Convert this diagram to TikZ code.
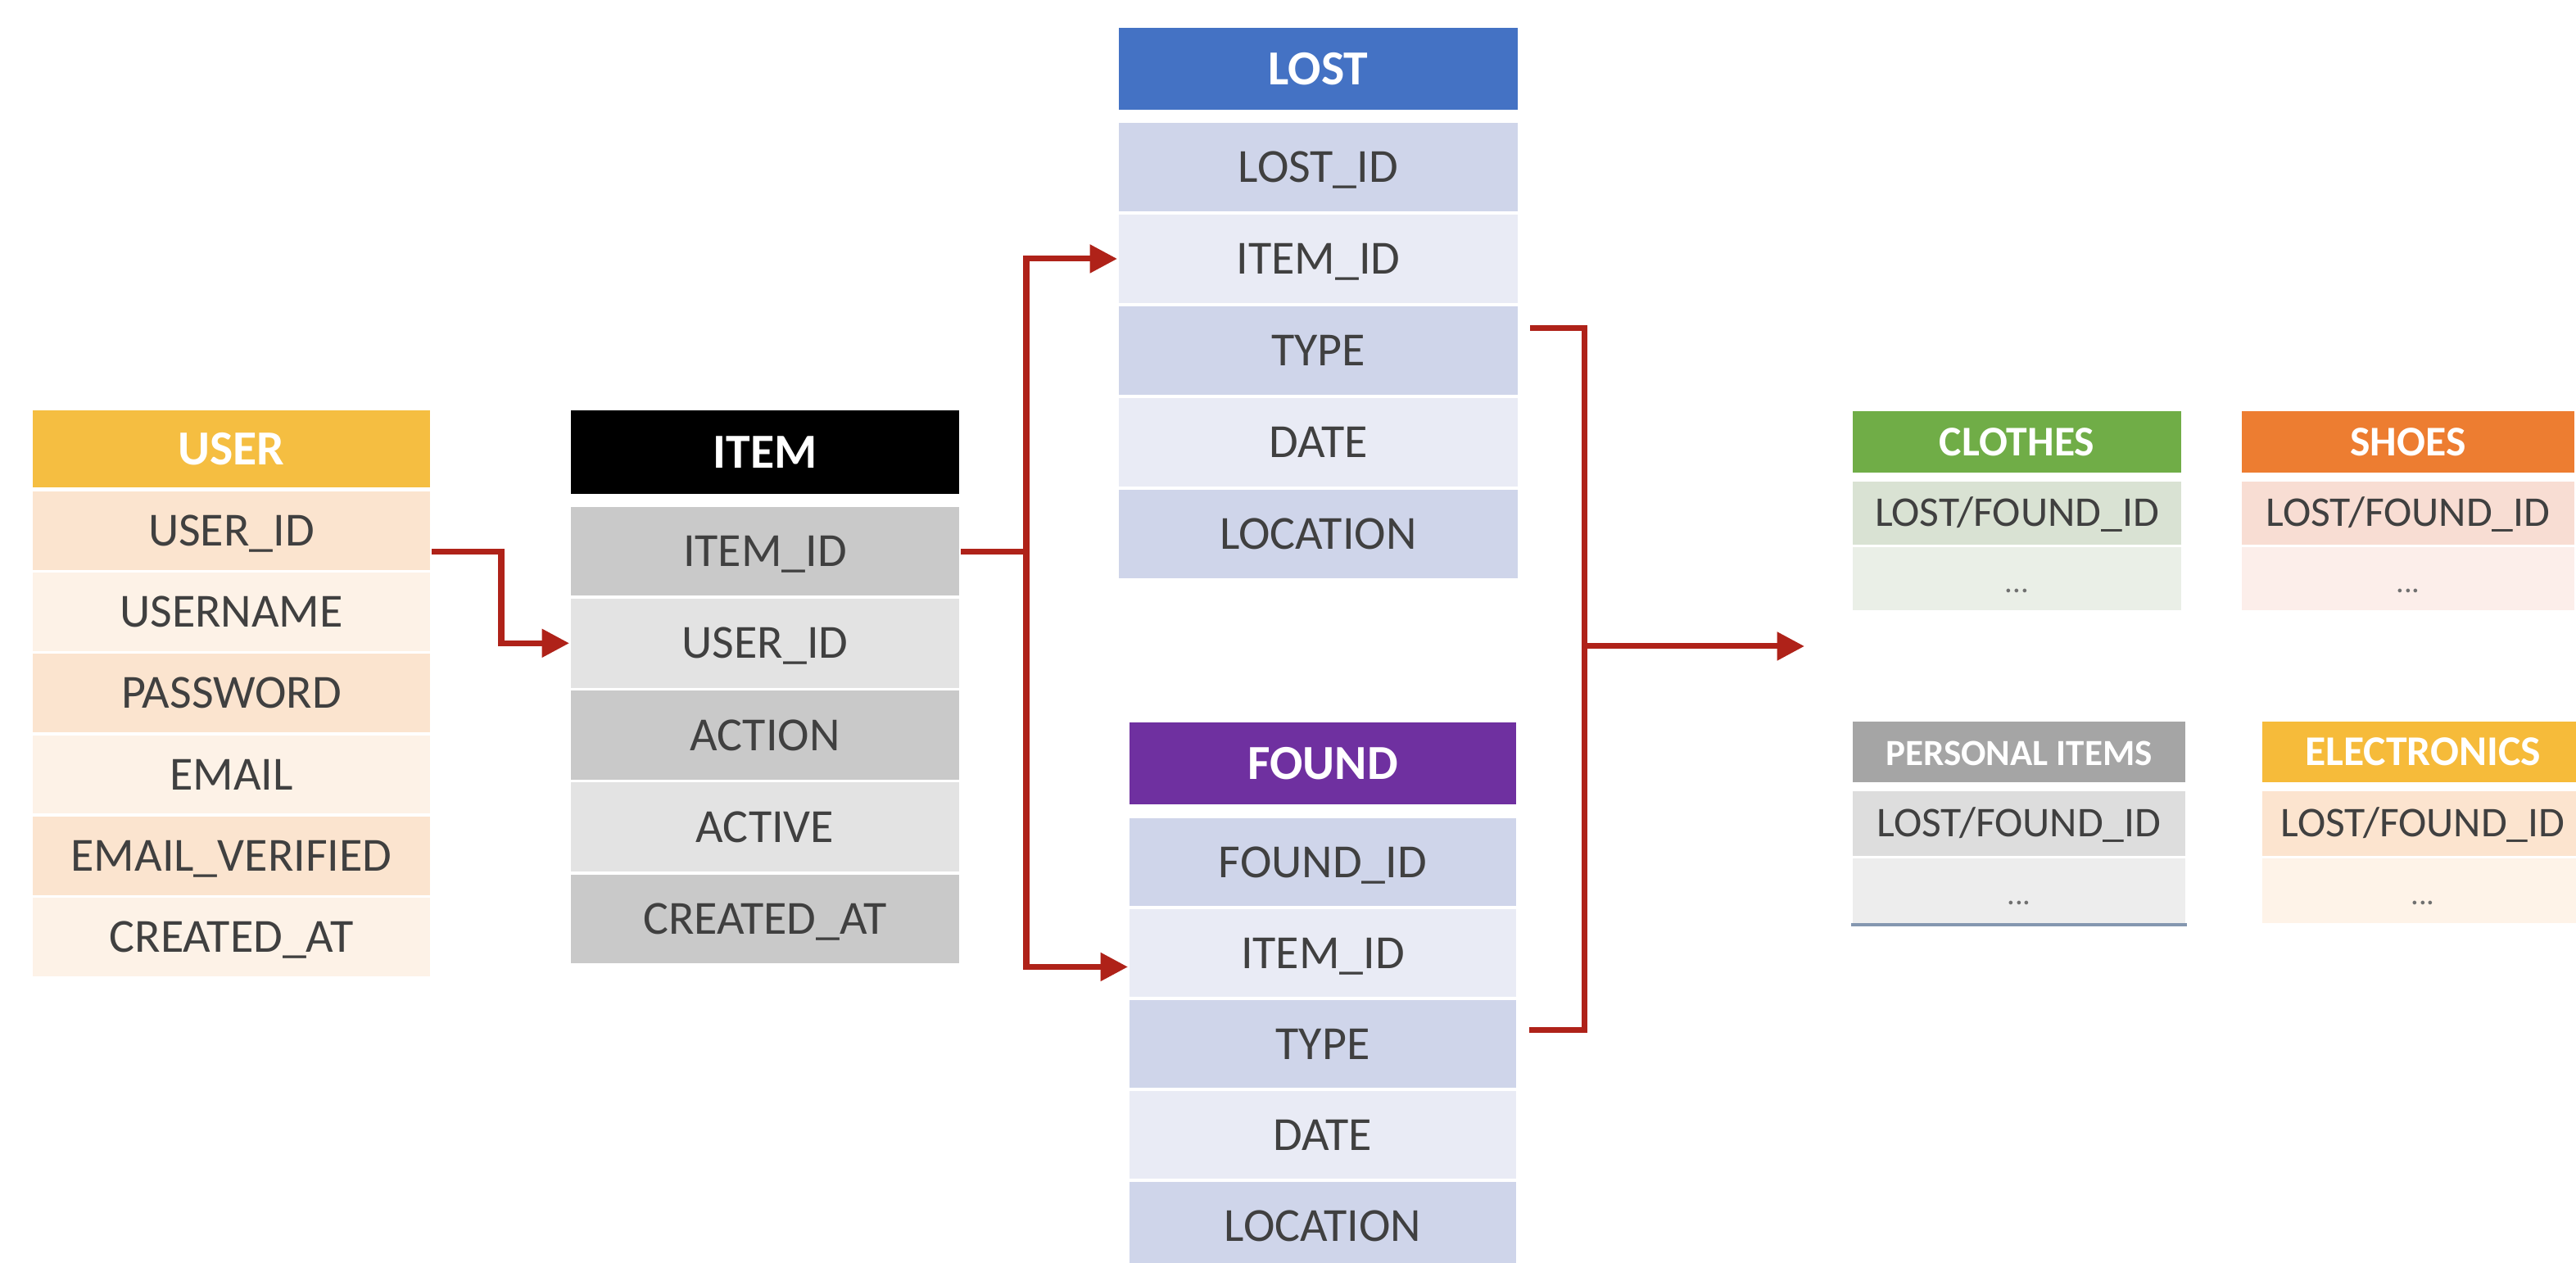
\documentclass[tikz,border=0pt]{standalone}
\usepackage{fontspec}
\setmainfont{Carlito}
\usepackage{xcolor}
\usetikzlibrary{arrows.meta,positioning}

\definecolor{usergold}{HTML}{F5BE41}
\definecolor{userdark}{HTML}{FBE4CF}
\definecolor{userlight}{HTML}{FDF2E7}
\definecolor{itemdark}{HTML}{C9C9C9}
\definecolor{itemlight}{HTML}{E3E3E3}
\definecolor{lostblue}{HTML}{4472C4}
\definecolor{foundpurple}{HTML}{6F30A0}
\definecolor{tabdark}{HTML}{CFD5EA}
\definecolor{tablight}{HTML}{E9EBF5}
\definecolor{clothgreen}{HTML}{70AD47}
\definecolor{clothdark}{HTML}{D9E2D3}
\definecolor{clothlight}{HTML}{EAEFE7}
\definecolor{shoeorange}{HTML}{ED7D31}
\definecolor{shoedark}{HTML}{F8DDD3}
\definecolor{shoelight}{HTML}{FCEEEA}
\definecolor{persgrey}{HTML}{A5A5A5}
\definecolor{persdark}{HTML}{DDDDDD}
\definecolor{perslight}{HTML}{EDEDED}
\definecolor{persline}{HTML}{8497B0}
\definecolor{elecgold}{HTML}{F6BB3A}
\definecolor{elecdark}{HTML}{FCE4CF}
\definecolor{eleclight}{HTML}{FEF3E8}
\definecolor{linkred}{HTML}{AF2219}
\definecolor{fieldtext}{HTML}{404040}

\begin{document}
\begin{tikzpicture}
	\tikzstyle{cell}=[rectangle, draw=white, line width=1pt, outer sep=0pt, inner sep=0pt, text=fieldtext, font=\fontsize{16.5}{18}\selectfont, text height=10.6pt, text depth=0pt]
	\tikzstyle{head}=[cell, text=white, font=\fontsize{17}{19}\selectfont\bfseries, text height=11pt]
	\tikzstyle{catcell}=[cell, font=\fontsize{14.7}{16}\selectfont, text height=9.5pt]
	\tikzstyle{cathead}=[catcell, text=white, font=\fontsize{14.7}{16}\selectfont\bfseries]
	\tikzstyle{dots}=[catcell, text=fieldtext!75, font=\fontsize{11}{12}\selectfont]
	\tikzstyle{usercell}=[minimum width=4.89cm, minimum height=0.993cm]
	\tikzstyle{itemcell}=[minimum width=4.78cm, minimum height=1.122cm]
	\tikzstyle{lostcell}=[minimum width=4.91cm, minimum height=1.12cm]
	\tikzstyle{foundcell}=[minimum width=4.76cm, minimum height=1.11cm]
	\tikzstyle{wire}=[draw=linkred, line width=2pt]
	\tikzstyle{link}=[wire, -{Triangle[length=9.5pt,width=9.5pt]}]
	\useasboundingbox (0,0) rectangle (31.45,15.42);
	% USER
	\node [head, usercell, fill=usergold, minimum height=0.98cm] (user) at (2.825,9.94) {USER};
	\node [cell, usercell, fill=userdark, below=0.01cm of user] (userid) {USER\_ID};
	\node [cell, usercell, fill=userlight, below=0cm of userid] (username) {USERNAME};
	\node [cell, usercell, fill=userdark, below=0cm of username] (password) {PASSWORD};
	\node [cell, usercell, fill=userlight, below=0cm of password] (email) {EMAIL};
	\node [cell, usercell, fill=userdark, below=0cm of email] (emailverified) {EMAIL\_VERIFIED};
	\node [cell, usercell, fill=userlight, below=0cm of emailverified] (usercreated) {CREATED\_AT};
	% ITEM
	\node [head, itemcell, fill=black, minimum height=1.06cm] (item) at (9.34,9.90) {ITEM};
	\node [cell, itemcell, fill=itemdark, below=0.12cm of item] (itemid) {ITEM\_ID};
	\node [cell, itemcell, fill=itemlight, below=0cm of itemid] (ituserid) {USER\_ID};
	\node [cell, itemcell, fill=itemdark, below=0cm of ituserid] (action) {ACTION};
	\node [cell, itemcell, fill=itemlight, below=0cm of action] (active) {ACTIVE};
	\node [cell, itemcell, fill=itemdark, below=0cm of active] (itemcreated) {CREATED\_AT};
	% LOST
	\node [head, lostcell, fill=lostblue, minimum height=1.04cm] (lost) at (16.095,14.58) {LOST};
	\node [cell, lostcell, fill=tabdark, below=0.12cm of lost] (lostid) {LOST\_ID};
	\node [cell, lostcell, fill=tablight, below=0cm of lostid] (litemid) {ITEM\_ID};
	\node [cell, lostcell, fill=tabdark, below=0cm of litemid] (ltype) {TYPE};
	\node [cell, lostcell, fill=tablight, below=0cm of ltype] (ldate) {DATE};
	\node [cell, lostcell, fill=tabdark, below=0cm of ldate] (llocation) {LOCATION};
	% FOUND
	\node [head, foundcell, fill=foundpurple, minimum height=1.04cm] (found) at (16.15,6.10) {FOUND};
	\node [cell, foundcell, fill=tabdark, below=0.13cm of found] (foundid) {FOUND\_ID};
	\node [cell, foundcell, fill=tablight, below=0cm of foundid] (fitemid) {ITEM\_ID};
	\node [cell, foundcell, fill=tabdark, below=0cm of fitemid] (ftype) {TYPE};
	\node [cell, foundcell, fill=tablight, below=0cm of ftype] (fdate) {DATE};
	\node [cell, foundcell, fill=tabdark, below=0cm of fdate] (flocation) {LOCATION};
	% categories
	\node [cathead, fill=clothgreen, minimum width=4.05cm, minimum height=0.79cm] (clothes) at (24.625,10.025) {CLOTHES};
	\node [catcell, fill=clothdark, minimum width=4.05cm, minimum height=0.805cm, below=0.07cm of clothes] (clothesid) {LOST/FOUND\_ID};
	\node [dots, fill=clothlight, minimum width=4.05cm, minimum height=0.805cm, below=0cm of clothesid] (clothesmore) {...};
	\node [cathead, fill=shoeorange, minimum width=4.10cm, minimum height=0.79cm] (shoes) at (29.40,10.025) {SHOES};
	\node [catcell, fill=shoedark, minimum width=4.10cm, minimum height=0.805cm, below=0.07cm of shoes] (shoesid) {LOST/FOUND\_ID};
	\node [dots, fill=shoelight, minimum width=4.10cm, minimum height=0.805cm, below=0cm of shoesid] (shoesmore) {...};
	\node [cathead, fill=persgrey, minimum width=4.10cm, minimum height=0.78cm, font=\fontsize{12.8}{14}\selectfont\bfseries] (personal) at (24.65,6.24) {PERSONAL ITEMS};
	\node [catcell, fill=persdark, minimum width=4.10cm, minimum height=0.825cm, below=0.07cm of personal] (personalid) {LOST/FOUND\_ID};
	\node [dots, fill=perslight, minimum width=4.10cm, minimum height=0.825cm, below=0cm of personalid] (personalmore) {...};
	\draw [persline, line width=1pt] (personalmore.south west) -- (personalmore.south east);
	\node [cathead, fill=elecgold, minimum width=3.96cm, minimum height=0.78cm] (electronics) at (29.58,6.24) {ELECTRONICS};
	\node [catcell, fill=elecdark, minimum width=3.96cm, minimum height=0.825cm, below=0.07cm of electronics] (electronicsid) {LOST/FOUND\_ID};
	\node [dots, fill=eleclight, minimum width=3.96cm, minimum height=0.825cm, below=0cm of electronicsid] (electronicsmore) {...};
	% connectors
	\coordinate (join) at (19.34,7.53);
	\coordinate (cat) at (22.03,7.53);
	\draw [link] (userid.east |- itemid) -- ++(0.85,0) |- (ituserid.west);
	\draw [link] (itemid.east) -- ++(0.8,0) |- (litemid.west);
	\draw [link] (itemid.east) -- ++(0.8,0) |- ([yshift=-0.17cm]fitemid.west);
	\draw [wire] ([xshift=0.13cm,yshift=0.27cm]ltype.east) -| (join);
	\draw [wire] ([xshift=0.14cm,yshift=0.17cm]ftype.east) -| (join);
	\draw [link] (join) -- (cat);
\end{tikzpicture}
\end{document}
